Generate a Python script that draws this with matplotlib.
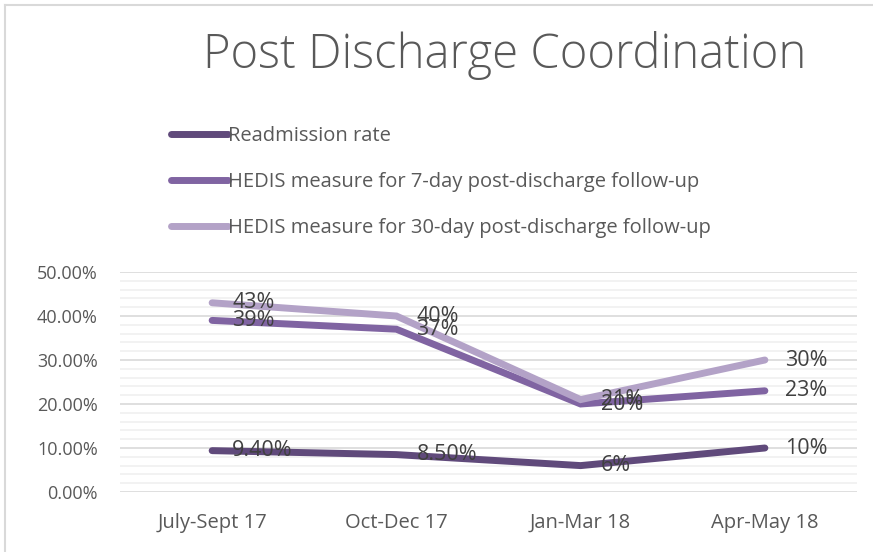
import matplotlib.pyplot as plt
from matplotlib.lines import Line2D
from matplotlib.ticker import MultipleLocator, FuncFormatter

plt.rcParams['font.family'] = ['Open Sans', 'DejaVu Sans']

categories = ['July-Sept 17', 'Oct-Dec 17', 'Jan-Mar 18', 'Apr-May 18']
readmission = [9.4, 8.5, 6.0, 10.0]
hedis_7 = [39, 37, 20, 23]
hedis_30 = [43, 40, 21, 30]
readmission_labels = ['9.40%', '8.50%', '6%', '10%']
hedis_7_labels = ['39%', '37%', '20%', '23%']
hedis_30_labels = ['43%', '40%', '21%', '30%']

names = ['Readmission rate',
         'HEDIS measure for 7-day post-discharge follow-up',
         'HEDIS measure for 30-day post-discharge follow-up']
colors = ['#604a7b', '#8064a2', '#b3a2c7']
text_color = '#595959'

W, H = 873, 552
fig = plt.figure(figsize=(W / 100, H / 100), dpi=100)
ax = fig.add_axes([120 / W, 1 - 492 / H, (857 - 120) / W, (492 - 272) / H])

x = list(range(len(categories)))
series = [(readmission, readmission_labels), (hedis_7, hedis_7_labels), (hedis_30, hedis_30_labels)]
for (vals, labs), c in zip(series, colors):
    ax.plot(x, vals, color=c, lw=5, solid_capstyle='round', solid_joinstyle='miter', zorder=3)

# data labels to the right of each point
for (vals, labs) in series:
    for xi, v, lab in zip(x, vals, labs):
        ax.annotate(lab, (xi, v), xytext=(14.5, 0), textcoords='offset points',
                    ha='left', va='center', fontsize=15.5, color='#404040', zorder=4)

ax.set_xlim(-0.5, len(categories) - 0.5)
ax.set_ylim(0, 50)
ax.yaxis.set_major_locator(MultipleLocator(10))
ax.yaxis.set_minor_locator(MultipleLocator(2))
ax.yaxis.set_major_formatter(FuncFormatter(lambda v, p: f'{v:.2f}%'))
ax.grid(axis='y', which='major', color='#d9d9d9', lw=1.2, zorder=0)
ax.grid(axis='y', which='minor', color='#f0f0f0', lw=1.2, zorder=0)
ax.set_xticks(x)
ax.set_xticklabels(categories)
ax.tick_params(axis='both', which='both', length=0, labelsize=13, labelcolor=text_color)
ax.tick_params(axis='x', labelsize=14.5, pad=15)
ax.tick_params(axis='y', pad=16)
for s in ax.spines.values():
    s.set_visible(False)

fig.text(505 / W, 1 - 55 / H, 'Post Discharge Coordination', ha='center', va='center',
         fontsize=34, color=text_color, fontweight='light')

# legend, stacked vertically
handles = [Line2D([0], [0], color=c, lw=5, solid_capstyle='round') for c in colors]
fig.legend(handles, names, loc='upper left', bbox_to_anchor=(153 / W, 1 - 108 / H),
           frameon=False, fontsize=14.5, labelcolor=text_color, handlelength=2.8,
           handletextpad=0.02, labelspacing=1.28)

# chart frame
fig.add_artist(Line2D([5 / W, 5 / W], [0, 1 - 5 / H], color='#d9d9d9', lw=1.5))
fig.add_artist(Line2D([5 / W, 1], [1 - 5 / H, 1 - 5 / H], color='#d9d9d9', lw=1.5))

fig.savefig('out.png', dpi=100)
